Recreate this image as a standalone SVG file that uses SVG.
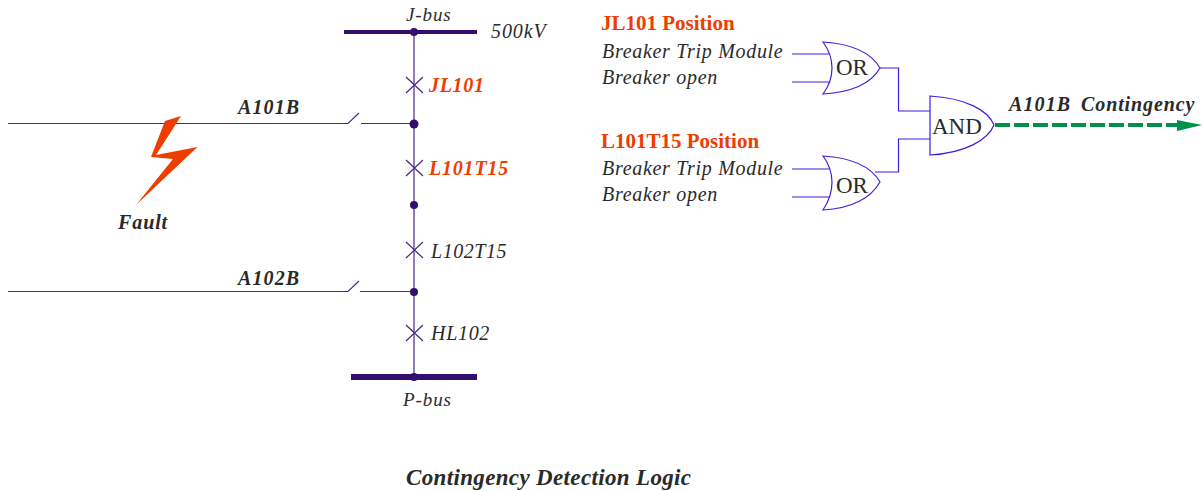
<svg xmlns="http://www.w3.org/2000/svg" width="1202" height="491" viewBox="0 0 1202 491">
<style>
text{font-family:"Liberation Serif","Times New Roman",serif;fill:#2a2a2a;font-size:20px}
.i{font-style:italic}
.b{font-weight:bold}
.lbl{font-style:italic;letter-spacing:.7px}
.s{font-size:19px;letter-spacing:.9px}
.o{fill:#ee3d00}
.gt{font-size:23px}
.l{fill:none;stroke:#4a2a8c;stroke-width:1.2}
.bus{fill:#330e6e}
.g{fill:#fff;stroke:#3a1fe0;stroke-width:1.2}
.w{fill:none;stroke:#3a1fe0;stroke-width:1.2}
</style>
<rect width="1202" height="491" fill="#fff"/>
<g id="connectors">
<path class="l" d="M414 32V377M8 123.500H348L359 113M361 123.500H414M8 291.500H348L359 281M360 291.500H414"/>
<path class="l" d="M406 77L423 93M423 77L406 93M406 160L423 176M423 160L406 176M406 242L423 258M423 242L406 258M406 325L423 341M423 325L406 341"/>
<path class="w" d="M792 54H830M792 82H830M792 169H830M792 197H830M879 68H898.500V111H930M875 172H898.500V139H930"/>
<path d="M995 125H1178" fill="none" stroke="#00904a" stroke-width="4" stroke-dasharray="15 4"/>
<path d="M1177 120L1202 125L1177 131Z" fill="#00904a"/>
</g>
<g id="j-bus"><rect class="bus" x="344" y="30" width="133" height="4"/><circle class="bus" cx="414" cy="32" r="4"/><text class="lbl s" x="406" y="21">J-bus</text><text class="lbl" x="491" y="38" style="letter-spacing:.9px">500kV</text></g>
<g id="p-bus"><rect class="bus" x="351" y="374" width="126" height="6"/><circle class="bus" cx="414" cy="377" r="4"/><text class="lbl s" x="403" y="406">P-bus</text></g>
<g id="jl101"><text class="i b o" x="429" y="92" letter-spacing=".7">JL101</text></g>
<g id="l101t15"><text class="i b o" x="429" y="175" letter-spacing=".8">L101T15</text></g>
<g id="l102t15"><text class="lbl" x="431" y="258" style="letter-spacing:.55px">L102T15</text></g>
<g id="hl102"><text class="lbl" x="431" y="340">HL102</text></g>
<g id="junction-1"><circle class="bus" cx="414" cy="124" r="4.500"/></g>
<g id="junction-2"><circle class="bus" cx="414" cy="205" r="4"/></g>
<g id="junction-3"><circle class="bus" cx="414" cy="292" r="4"/></g>
<g id="a101b"><text class="i b" x="238" y="114" letter-spacing="1.1">A101B</text></g>
<g id="a102b"><text class="i b" x="238" y="285" letter-spacing="1.1">A102B</text></g>
<g id="fault"><path d="M181 116L165 121L151 157L173 159L136 205L197.500 147L156 155Z" fill="#ee3d00"/><text class="i b" x="118" y="229" letter-spacing=".9">Fault</text></g>
<g id="pos1"><text class="b o" x="601" y="30" style="font-size:21px">JL101 Position</text><text class="lbl" x="602" y="58">Breaker Trip Module</text><text class="lbl" x="602" y="84">Breaker open</text></g>
<g id="pos2"><text class="b o" x="601" y="148" style="font-size:21px">L101T15 Position</text><text class="lbl" x="602" y="175">Breaker Trip Module</text><text class="lbl" x="602" y="201">Breaker open</text></g>
<g id="or1"><path class="g" d="M823 42C855 44 872 54 880 68C872 82 855 92 823 94C835 78 835 58 823 42Z"/><text class="gt" x="836" y="75">OR</text></g>
<g id="or2"><path class="g" d="M823 156C855 158 872 168 880 182C872 196 855 208 823 210C835 192 835 172 823 156Z"/><text class="gt" x="836" y="193">OR</text></g>
<g id="and"><path class="g" d="M930 96C965 98 988 110 994 125C988 140 965 153 930 155Z"/><text class="gt" x="932" y="134">AND</text></g>
<g id="contingency"><text class="i b" x="1009" y="111" letter-spacing="1.1">A101B</text><text class="i b" x="1081" y="111" letter-spacing=".9">Contingency</text></g>
<g id="title"><text class="i b" x="406" y="485" style="font-size:23px;letter-spacing:.35px">Contingency Detection Logic</text></g>
</svg>
